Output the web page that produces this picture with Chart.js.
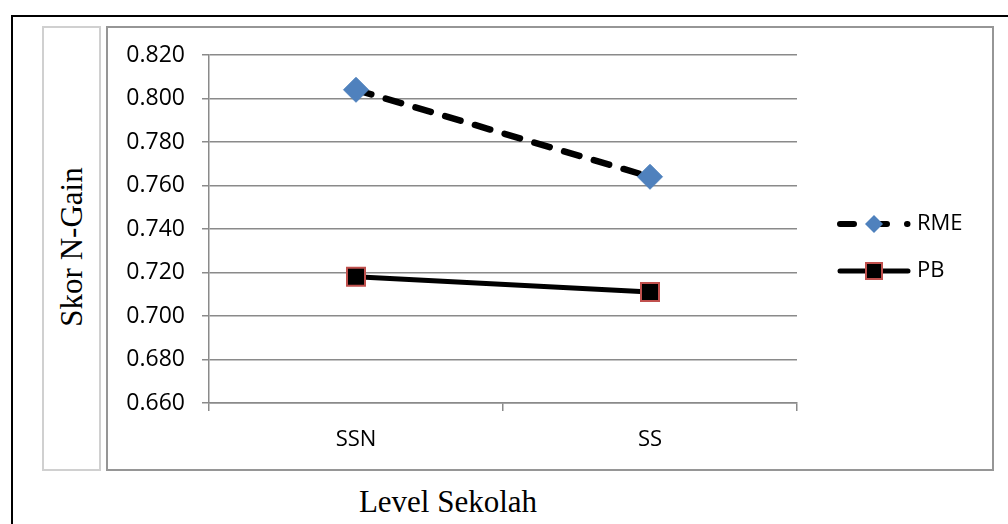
<!DOCTYPE html>
<html>
<head>
<meta charset="utf-8">
<title>Skor N-Gain per Level Sekolah</title>
<script src="https://cdn.jsdelivr.net/npm/chart.js@4.4.1/dist/chart.umd.min.js"></script>
<style>
  html, body { margin: 0; padding: 0; background: #fff; }
  #wrap { position: relative; width: 1008px; height: 524px; overflow: hidden; background: #fff; }
  #outer { position: absolute; left: 11px; top: 15px; width: 1100px; height: 600px;
           border-left: 2px solid #000; border-top: 2px solid #000; box-sizing: border-box; }
  #frame { position: absolute; left: 106px; top: 26px; width: 888px; height: 445px;
           border: 2px solid #969696; box-sizing: border-box; }
  #ybox { position: absolute; left: 42px; top: 26px; width: 59px; height: 445px;
          border: 2px solid #d0d0d0; box-sizing: border-box; }
  .title { position: absolute; font-family: "Liberation Serif", "Times New Roman", serif;
           font-size: 31px; line-height: 31px; color: #000; white-space: nowrap; }
  #ytitle { left: 71px; top: 247px; width: 0; height: 0; }
  #ytitle span { position: absolute; left: 0; top: 0; transform: translate(-50%, -50%) rotate(-90deg); }
  #xtitle { left: 448px; top: 486px; transform: translateX(-50%); }
  canvas { position: absolute; left: 0; top: 0; }
</style>
</head>
<body>
<div id="wrap">
  <div id="outer"></div>
  <div id="frame"></div>
  <div id="ybox"></div>
  <div class="title" id="ytitle"><span>Skor N-Gain</span></div>
  <div class="title" id="xtitle">Level Sekolah</div>
  <canvas id="chart" width="1008" height="524"></canvas>
</div>
<script>
// School levels on the x axis
const categories = ['SSN', 'SS'];
// Mean N-Gain score per learning model
const seriesNames = ['RME', 'PB'];
const rmeValues = [0.804, 0.764];
const pbValues = [0.718, 0.711];
// Value axis ticks
const yTickValues = [0.660, 0.680, 0.700, 0.720, 0.740, 0.760, 0.780, 0.800, 0.820];

const BLUE = '#4F81BD';
const RED = '#C0504D';
const GRID = '#8a8a8a';
const TICK_FONT = { family: '"Open Sans", "Liberation Sans", sans-serif', size: 22 };

// Small legend swatches: a line sample with the series marker in the middle
function legendSample(kind) {
  const c = document.createElement('canvas');
  c.width = 96; c.height = 26;
  const g = c.getContext('2d');
  const cy = 13;
  g.strokeStyle = '#000';
  g.lineCap = 'round';
  if (kind === 'dash') {
    g.lineWidth = 6;
    g.setLineDash([14, 23, 10, 20, 0.5, 100]);
    g.beginPath(); g.moveTo(24, cy); g.lineTo(92, cy); g.stroke();
    g.setLineDash([]);
    g.fillStyle = BLUE;
    g.beginPath();
    g.moveTo(58 - 9, cy); g.lineTo(58, cy - 9); g.lineTo(58 + 9, cy); g.lineTo(58, cy + 9);
    g.closePath(); g.fill();
  } else {
    g.lineWidth = 5;
    g.beginPath(); g.moveTo(24, cy); g.lineTo(92, cy); g.stroke();
    g.fillStyle = RED;
    g.fillRect(58 - 9, cy - 9, 18, 18);
    g.fillStyle = '#000';
    g.fillRect(58 - 7, cy - 7, 14, 14);
  }
  return c;
}
const samples = [legendSample('dash'), legendSample('solid')];

// Legend box: fixed width beside the plot, items starting a little above mid-height
const LEGEND_W = 211;
const LEGEND_TOP = 188;
const legendPlacement = {
  id: 'legendPlacement',
  afterInit(chart) {
    const lg = chart.legend;
    if (!lg) return;
    const fit = lg.fit;
    lg.fit = function () { fit.call(this); this.width = LEGEND_W; };
  },
  afterLayout(chart) {
    const lg = chart.legend;
    if (!lg) return;
    const h = lg.bottom - lg.top;
    lg.top = LEGEND_TOP;
    lg.bottom = LEGEND_TOP + h;
  }
};

new Chart(document.getElementById('chart'), {
  type: 'line',
  data: {
    labels: categories,
    datasets: [
      {
        label: seriesNames[0],
        data: rmeValues,
        borderColor: '#000',
        borderWidth: 6.5,
        borderDash: [16, 15],
        borderCapStyle: 'round',
        tension: 0,
        pointStyle: 'rectRot',
        pointRadius: 12.5,
        pointBackgroundColor: BLUE,
        pointBorderColor: BLUE,
        pointBorderWidth: 1
      },
      {
        label: seriesNames[1],
        data: pbValues,
        borderColor: '#000',
        borderWidth: 5,
        borderCapStyle: 'round',
        tension: 0,
        pointStyle: 'rect',
        pointRadius: 12.7,
        pointBackgroundColor: '#000',
        pointBorderColor: RED,
        pointBorderWidth: 2
      }
    ]
  },
  options: {
    responsive: false,
    animation: false,
    events: [],
    layout: { padding: { left: 110, top: 55, right: 0, bottom: 74 } },
    plugins: {
      tooltip: { enabled: false },
      legend: {
        position: 'right',
        align: 'start',
        labels: {
          usePointStyle: true,
          pointStyleWidth: 84,
          padding: 25,
          color: '#000',
          font: TICK_FONT,
          generateLabels(chart) {
            return chart.data.datasets.map((ds, i) => ({
              text: ds.label,
              pointStyle: samples[i],
              fontColor: '#000',
              fillStyle: 'transparent',
              strokeStyle: 'transparent',
              lineWidth: 0,
              hidden: false,
              datasetIndex: i
            }));
          }
        }
      }
    },
    scales: {
      x: {
        type: 'category',
        offset: true,
        grid: { offset: true, drawOnChartArea: false, drawTicks: true, tickLength: 8, color: GRID, lineWidth: 1.5 },
        border: { display: true, color: GRID, width: 1.5 },
        ticks: { color: '#000', font: TICK_FONT, padding: 16, maxRotation: 0 },
        afterFit(scale) { scale.height = 47; }
      },
      y: {
        min: yTickValues[0],
        max: yTickValues[yTickValues.length - 1],
        afterBuildTicks(scale) { scale.ticks = yTickValues.map(v => ({ value: v })); },
        grid: { color: GRID, lineWidth: 1.5, tickLength: 7, drawTicks: true },
        border: { display: true, color: GRID, width: 1.5 },
        ticks: {
          color: '#000',
          font: { family: TICK_FONT.family, size: 23 },
          padding: 17,
          callback: v => Number(v).toFixed(3)
        },
        afterFit(scale) { scale.width = 99; }
      }
    }
  },
  plugins: [legendPlacement]
});
</script>
</body>
</html>
